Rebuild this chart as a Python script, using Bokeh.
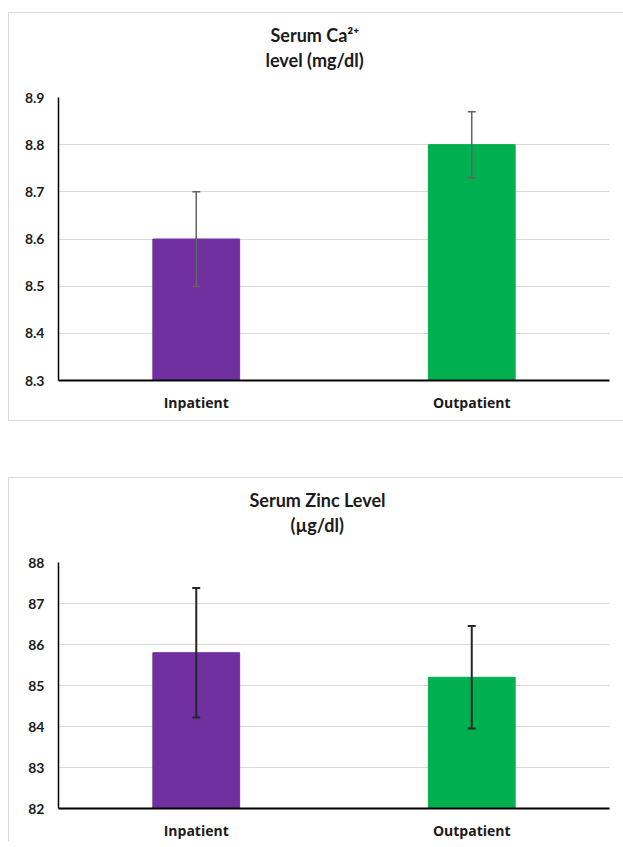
from bokeh.plotting import figure
from bokeh.models import ColumnDataSource, Whisker, TeeHead, Title, Range1d, FixedTicker, Spacer
from bokeh.layouts import column
from bokeh.embed import file_html
from bokeh.resources import INLINE

categories = ["Inpatient", "Outpatient"]
colors = ["#7030A0", "#00B050"]

ca_values = [8.6, 8.8]
ca_errors = [0.1, 0.07]
ca_ticks = [8.3, 8.4, 8.5, 8.6, 8.7, 8.8, 8.9]
ca_title = ["Serum Ca\u00b2\u207a", "level (mg/dl)"]

zn_values = [85.8, 85.2]
zn_errors = [1.58, 1.25]
zn_ticks = [82, 83, 84, 85, 86, 87, 88]
zn_title = ["Serum Zinc  Level", "(\u00b5g/dl)"]

TITLE_FONT = "Lato"
LABEL_FONT = "Open Sans"


def make_chart(values, errors, ticks, title_lines, title_offsets, err_color, err_width, height,
               border_left, border_top, border_right, border_bottom, styles):
    p = figure(x_range=categories, y_range=Range1d(ticks[0], ticks[-1]),
               width=615, height=height, output_backend="svg", toolbar_location=None,
               min_border_left=border_left, min_border_top=border_top,
               min_border_right=border_right, min_border_bottom=border_bottom)
    p.styles = styles
    src = ColumnDataSource(dict(
        cat=categories, val=values, col=colors,
        lo=[v - e for v, e in zip(values, errors)],
        hi=[v + e for v, e in zip(values, errors)],
    ))
    p.vbar(x="cat", top="val", bottom=ticks[0], width=0.315, color="col", source=src)
    w = Whisker(base="cat", lower="lo", upper="hi", source=src, level="overlay",
                line_color=err_color, line_width=err_width,
                upper_head=TeeHead(size=8, line_color=err_color, line_width=err_width),
                lower_head=TeeHead(size=8, line_color=err_color, line_width=err_width))
    p.add_layout(w)

    # gap between the frame and the title block
    p.add_layout(Title(text=" ", text_font_size="1px", standoff=22), "above")
    # second line first: it sits nearest the frame
    for text, off, stand in ((title_lines[1], title_offsets[1], 2.4),
                             (title_lines[0], title_offsets[0], 2)):
        t = Title(text=text, align="left", offset=off, standoff=stand,
                  text_font=TITLE_FONT, text_font_style="bold", text_font_size="18px",
                  text_color="#1a1a1a")
        p.add_layout(t, "above")

    p.outline_line_color = None
    p.background_fill_color = "white"
    p.border_fill_color = "white"
    p.xgrid.grid_line_color = None
    p.ygrid.grid_line_color = "#d9d9d9"
    p.ygrid.grid_line_width = 1
    p.yaxis.ticker = FixedTicker(ticks=ticks)
    p.x_range.range_padding = 0

    for ax in (p.xaxis[0], p.yaxis[0]):
        ax.major_tick_line_color = None
        ax.minor_tick_line_color = None
        ax.major_tick_out = 0
        ax.major_tick_in = 0
        ax.minor_tick_out = 0
        ax.minor_tick_in = 0
        ax.axis_line_color = "black"
        ax.major_label_text_font_style = "bold"
        ax.major_label_text_color = "#1a1a1a"
    p.yaxis.axis_line_width = 1.5
    p.xaxis.axis_line_width = 2
    p.yaxis.major_label_text_font = TITLE_FONT
    p.yaxis.major_label_text_font_size = "14px"
    p.yaxis.major_label_standoff = 14
    p.xaxis.major_label_text_font = LABEL_FONT
    p.xaxis.major_label_text_font_size = "14px"
    p.xaxis.major_label_standoff = 12

    return p


p1 = make_chart(ca_values, ca_errors, ca_ticks, ca_title, (212, 207), "#636363", 1.5, 409,
                49, 84, 14, 42,
                {"border-left": "1px solid #d9d9d9", "border-top": "1px solid #d9d9d9",
                 "border-bottom": "1px solid #d9d9d9"})
p2 = make_chart(zn_values, zn_errors, zn_ticks, zn_title, (191, 232), "#262626", 2, 364,
                44, 84, 15, 33,
                {"border-left": "1px solid #d9d9d9", "border-top": "1px solid #d9d9d9"})

layout = column(p1, Spacer(height=56), p2, spacing=0, margin=(12, 0, 0, 8))

with open("out.html", "w") as f:
    f.write(file_html(layout, INLINE))
